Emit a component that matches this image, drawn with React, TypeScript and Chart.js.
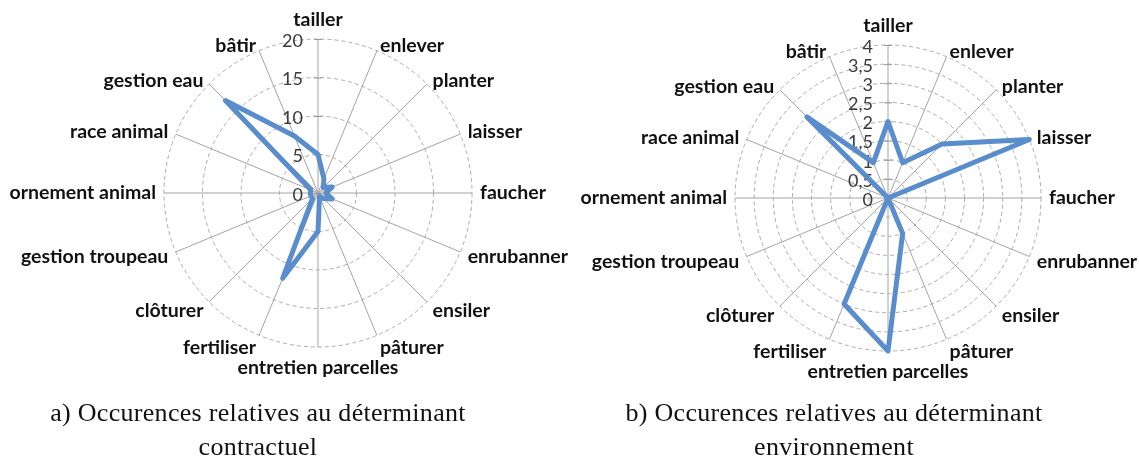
import React, { useEffect, useRef } from "react";
import { Chart, registerables } from "chart.js";

Chart.register(...registerables);

const CATEGORIES = [
  "tailler",
  "enlever",
  "planter",
  "laisser",
  "faucher",
  "enrubanner",
  "ensiler",
  "pâturer",
  "entretien parcelles",
  "fertiliser",
  "clôturer",
  "gestion troupeau",
  "ornement animal",
  "race animal",
  "gestion eau",
  "bâtir",
];

const VALUES_CONTRACTUEL = [5, 2, 1, 2, 1, 2, 1, 0.5, 5, 12, 1, 1, 1, 1, 17, 8];
const VALUES_ENVIRONNEMENT = [2, 1, 2, 4, 0, 0, 0, 1, 4, 3, 0, 0, 0, 0, 3, 1];

const TICKS_A = ["0", "5", "10", "15", "20"];
const TICKS_B = ["0", "0,5", "1", "1,5", "2", "2,5", "3", "3,5", "4"];

const CAPTION_A = ["a) Occurences relatives au déterminant", "contractuel"];
const CAPTION_B = ["b) Occurences relatives au déterminant", "environnement"];

const LINE_COLOR = "#5a8dcc";
const LABEL_FONT = "bold 19.5px Lato";
const TICK_FONT = "18px Lato";

const radarText = {
  id: "radarText",
  beforeDatasetsDraw(chart: any) {
    const scale = chart.scales.r;
    const ctx = chart.ctx as CanvasRenderingContext2D;
    ctx.save();
    // small tick marks on the value axis
    ctx.strokeStyle = "#9a9a9a";
    ctx.lineWidth = 1;
    scale.ticks.forEach((t: any) => {
      const d = scale.getDistanceFromCenterForValue(t.value);
      ctx.beginPath();
      ctx.moveTo(scale.xCenter - 4, scale.yCenter - d + 0.5);
      ctx.lineTo(scale.xCenter + 4, scale.yCenter - d + 0.5);
      ctx.stroke();
    });
    // tick labels
    ctx.font = TICK_FONT;
    ctx.fillStyle = "#3a3a3a";
    ctx.textAlign = "right";
    ctx.textBaseline = "middle";
    scale.ticks.forEach((t: any) => {
      const d = scale.getDistanceFromCenterForValue(t.value);
      ctx.fillText(t.label, scale.xCenter - 15, scale.yCenter - d + 2);
    });
    // point labels
    ctx.font = LABEL_FONT;
    ctx.fillStyle = "#111111";
    chart.data.labels.forEach((lab: string, i: number) => {
      const a = scale.getIndexAngle(i);
      const p = scale.getPointPosition(i, scale.drawingArea);
      const s = Math.sin(a);
      const c = Math.cos(a);
      let x = p.x;
      let y = p.y;
      if (Math.abs(s) < 0.01) {
        ctx.textAlign = "center";
        y = c > 0 ? p.y - 19 : p.y + 21;
      } else {
        ctx.textAlign = s > 0 ? "left" : "right";
        x = p.x + 8 * s;
        y = p.y + (c > 0 ? -5 * c : -13 * c);
      }
      ctx.fillText(lab, x, y);
    });
    ctx.restore();
  },
};

function makeRadar(
  canvas: HTMLCanvasElement,
  values: number[],
  max: number,
  step: number,
  tickLabels: string[],
  pad: { left: number; right: number; top: number; bottom: number }
) {
  return new Chart(canvas, {
    type: "radar",
    data: {
      labels: CATEGORIES,
      datasets: [
        {
          data: values,
          borderColor: LINE_COLOR,
          backgroundColor: "rgba(0,0,0,0)",
          borderWidth: 5,
          pointRadius: 0,
          fill: false,
          borderJoinStyle: "round",
          tension: 0,
        },
      ],
    },
    options: {
      responsive: false,
      animation: false,
      layout: { padding: pad },
      plugins: { legend: { display: false }, tooltip: { enabled: false } },
      scales: {
        r: {
          min: 0,
          max,
          ticks: {
            display: false,
            stepSize: step,
            callback: (_v: any, idx: number) => tickLabels[idx],
          },
          pointLabels: { display: false },
          grid: { circular: true, color: "#ababab", lineWidth: 1 },
          border: { dash: [4, 3] },
          angleLines: { color: "#a4a4a4", lineWidth: 1 },
        },
      },
    },
    plugins: [radarText],
  } as any);
}

function Caption({ lines, cx }: { lines: string[]; cx: number }) {
  return (
    <>
      {lines.map((t, i) => (
        <div
          key={i}
          style={{
            position: "absolute",
            left: cx - 300,
            width: 600,
            top: 396 + i * 34,
            lineHeight: "34px",
            textAlign: "center",
            fontFamily: "'Liberation Serif', serif",
            fontSize: 26,
            letterSpacing: "0.3px",
            color: "#111",
            whiteSpace: "nowrap",
          }}
        >
          {t}
        </div>
      ))}
    </>
  );
}

export default function App() {
  const refA = useRef<HTMLCanvasElement>(null);
  const refB = useRef<HTMLCanvasElement>(null);

  useEffect(() => {
    document.body.style.margin = "0";
    const a = makeRadar(refA.current!, VALUES_CONTRACTUEL, 20, 5, TICKS_A, {
      left: 164,
      right: 98,
      top: 39,
      bottom: 115,
    });
    const b = makeRadar(refB.current!, VALUES_ENVIRONNEMENT, 4, 0.5, TICKS_B, {
      left: 165,
      right: 98,
      top: 45,
      bottom: 111,
    });
    return () => {
      a.destroy();
      b.destroy();
    };
  }, []);

  return (
    <div style={{ position: "relative", width: 1139, height: 462, background: "#fff", overflow: "hidden" }}>
      <canvas ref={refA} width={570} height={462} style={{ position: "absolute", left: 0, top: 0 }} />
      <canvas ref={refB} width={569} height={462} style={{ position: "absolute", left: 570, top: 0 }} />
      <Caption lines={CAPTION_A} cx={258} />
      <Caption lines={CAPTION_B} cx={834} />
    </div>
  );
}
